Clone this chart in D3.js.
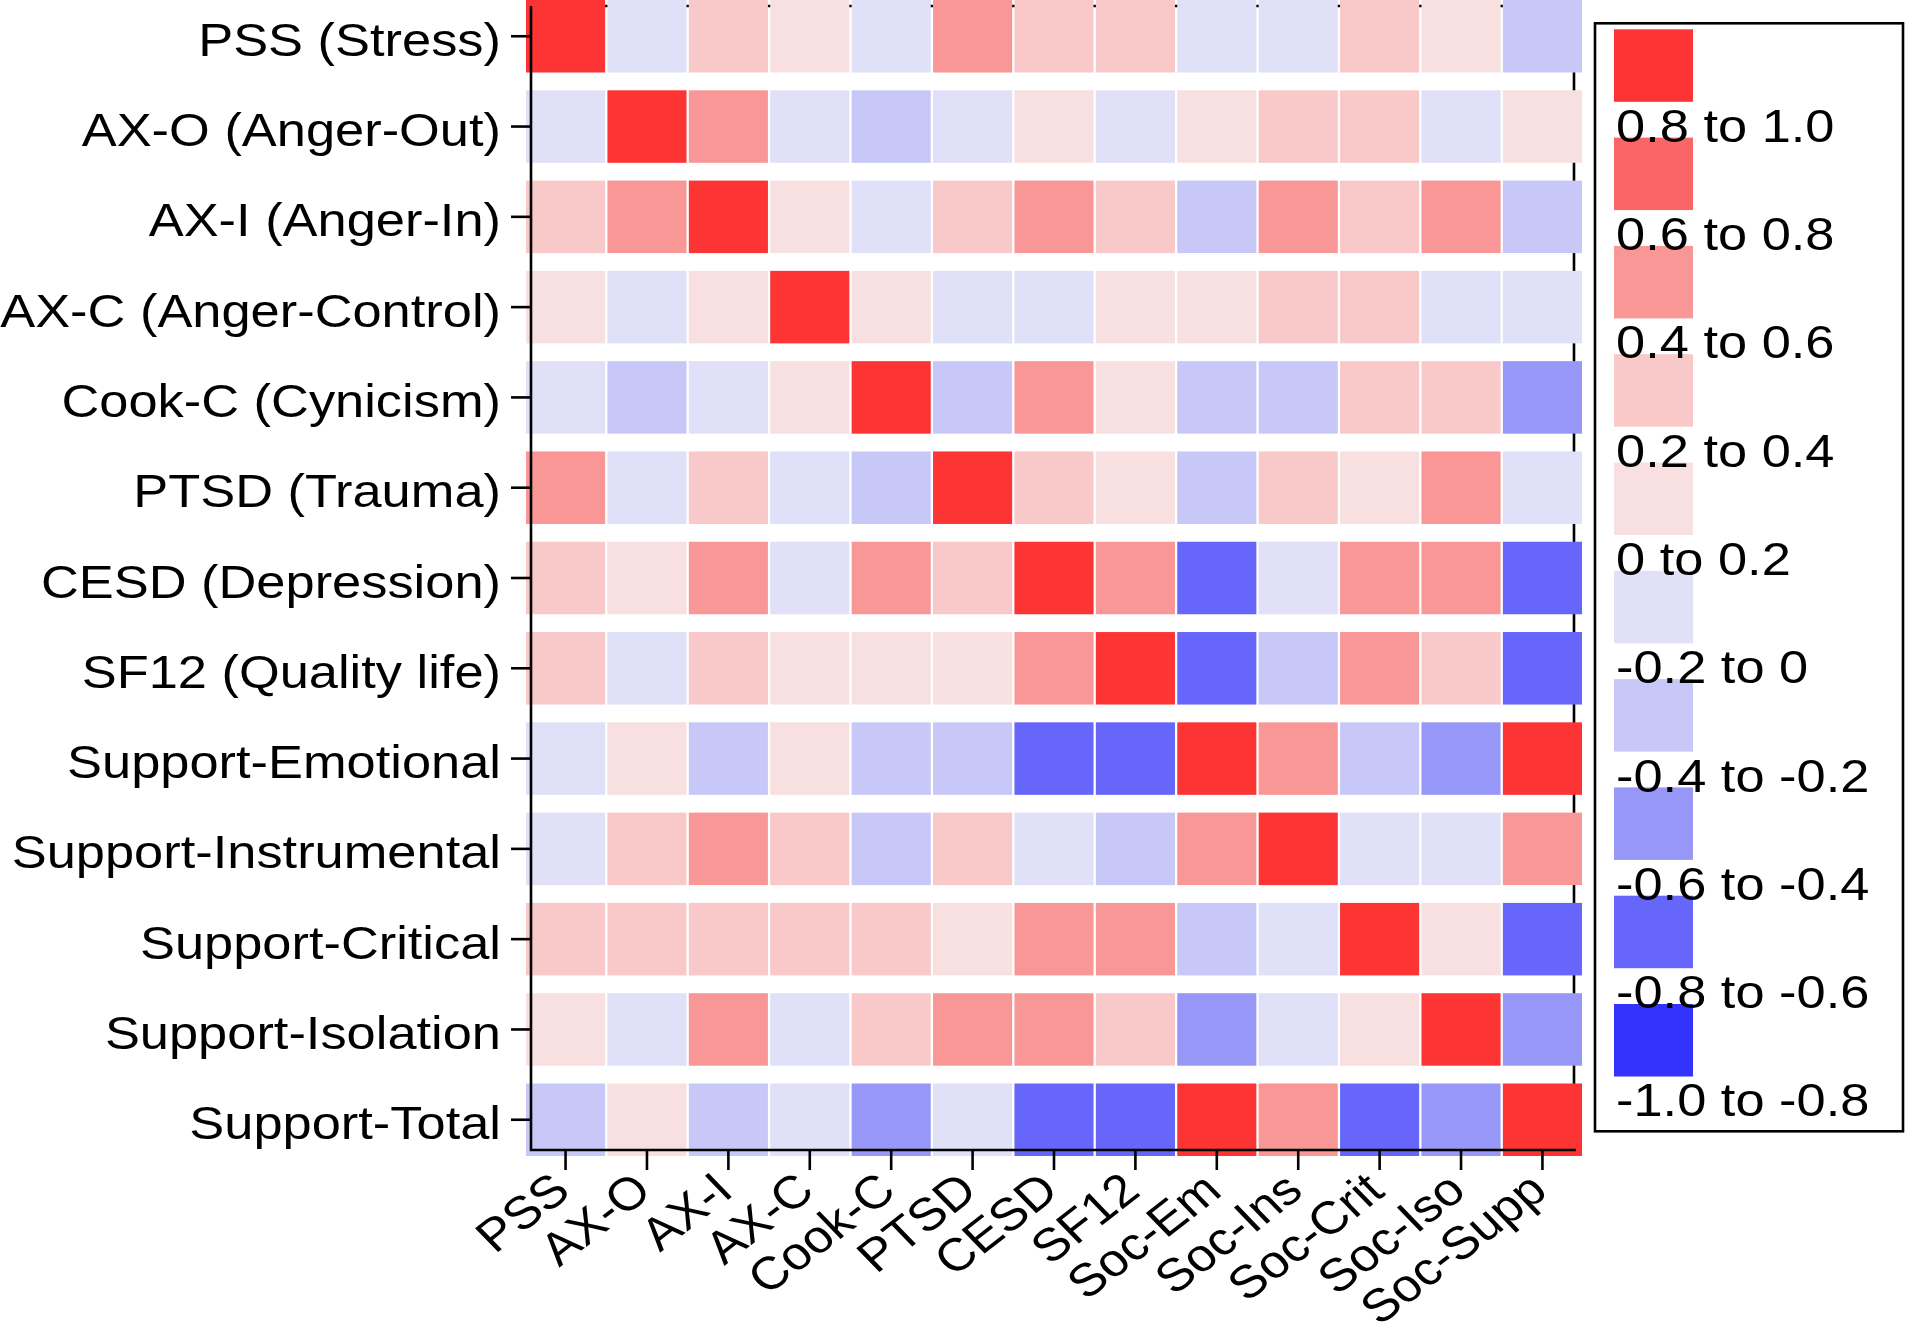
<!DOCTYPE html>
<html><head><meta charset="utf-8">
<script src="https://cdn.jsdelivr.net/npm/d3@7"></script>
<style>
html,body{margin:0;padding:0;background:#fff;}
svg{display:block;}
text{font-family:"Liberation Sans",Arial,Helvetica,sans-serif;fill:#000;}
</style></head><body>
<svg id="chart" width="1906" height="1325"></svg>
<script>
// ---- data ----
const rowLabels = ["PSS (Stress)", "AX-O (Anger-Out)", "AX-I (Anger-In)", "AX-C (Anger-Control)",
  "Cook-C (Cynicism)", "PTSD (Trauma)", "CESD (Depression)", "SF12 (Quality life)",
  "Support-Emotional", "Support-Instrumental", "Support-Critical", "Support-Isolation", "Support-Total"];
const colLabels = ["PSS", "AX-O", "AX-I", "AX-C", "Cook-C", "PTSD", "CESD", "SF12",
  "Soc-Em", "Soc-Ins", "Soc-Crit", "Soc-Iso", "Soc-Supp"];

// correlations (estimated within the colour bins shown)
const rPSS    = [ 1.00, -0.08,  0.27,  0.12, -0.05,  0.45,  0.31,  0.29, -0.11, -0.07,  0.26,  0.15, -0.27];
const rAXO    = [-0.08,  1.00,  0.44, -0.06, -0.24, -0.09,  0.12, -0.04,  0.09,  0.23,  0.25, -0.13,  0.11];
const rAXI    = [ 0.27,  0.44,  1.00,  0.14, -0.12,  0.33,  0.47,  0.36, -0.29,  0.42,  0.31,  0.43, -0.28];
const rAXC    = [ 0.12, -0.06,  0.14,  1.00,  0.08, -0.05, -0.10,  0.07,  0.10,  0.22,  0.21, -0.09, -0.04];
const rCookC  = [-0.05, -0.24, -0.12,  0.08,  1.00, -0.26,  0.41,  0.13, -0.25, -0.31,  0.28,  0.24, -0.46];
const rPTSD   = [ 0.45, -0.09,  0.33, -0.05, -0.26,  1.00,  0.35,  0.16, -0.28,  0.27,  0.13,  0.41, -0.14];
const rCESD   = [ 0.31,  0.12,  0.47, -0.10,  0.41,  0.35,  1.00,  0.52, -0.66, -0.15,  0.45,  0.49, -0.71];
const rSF12   = [ 0.29, -0.04,  0.36,  0.07,  0.13,  0.16,  0.52,  1.00, -0.68, -0.27,  0.43,  0.34, -0.69];
const rSocEm  = [-0.11,  0.09, -0.29,  0.10, -0.25, -0.28, -0.66, -0.68,  1.00,  0.48, -0.33, -0.52,  0.89];
const rSocIns = [-0.07,  0.23,  0.42,  0.22, -0.31,  0.27, -0.15, -0.27,  0.48,  1.00, -0.12, -0.08,  0.57];
const rSocCrit= [ 0.26,  0.25,  0.31,  0.21,  0.28,  0.13,  0.45,  0.43, -0.33, -0.12,  1.00,  0.18, -0.64];
const rSocIso = [ 0.15, -0.13,  0.43, -0.09,  0.24,  0.41,  0.49,  0.34, -0.52, -0.08,  0.18,  1.00, -0.55];
const rSocSupp= [-0.27,  0.11, -0.28, -0.04, -0.46, -0.14, -0.71, -0.69,  0.89,  0.57, -0.64, -0.55,  1.00];

const binEdges  = [-0.8, -0.6, -0.4, -0.2, 0, 0.2, 0.4, 0.6, 0.8];
const binColors = ["#3333FC", "#6666FA", "#9797F8", "#C8C8F8", "#E0E0F8",
                   "#F8E0E0", "#F9C8C8", "#F99797", "#FA6666", "#FC3434"];
const legendLabels = ["0.8 to 1.0", "0.6 to 0.8", "0.4 to 0.6", "0.2 to 0.4", "0 to 0.2",
  "-0.2 to 0", "-0.4 to -0.2", "-0.6 to -0.4", "-0.8 to -0.6", "-1.0 to -0.8"];

// ---- drawing ----
const matrix = [rPSS, rAXO, rAXI, rAXC, rCookC, rPTSD, rCESD, rSF12, rSocEm, rSocIns, rSocCrit, rSocIso, rSocSupp];
const cells = matrix.flatMap((row, i) => row.map((v, j) => ({r: rowLabels[i], c: colLabels[j], v})));

const svg = d3.select("#chart");
const SX = 1.115;           // horizontal stretch of the original typography
const X0 = 531, X1 = 1574, Y0 = 6, Y1 = 1150;

const x = d3.scaleBand().domain(colLabels).range([526, 1582]).paddingInner(0.028);
const y = d3.scaleBand().domain(rowLabels).range([0, 1156]).paddingInner(0.197);
const color = d3.scaleThreshold().domain(binEdges).range(binColors);

// frame lines behind cells (top & right)
svg.append("path")
  .attr("d", `M${X0},${Y0}H${X1}V${Y1}`)
  .attr("fill", "none").attr("stroke", "#000").attr("stroke-width", 2.6);

svg.append("g").selectAll("rect").data(cells).join("rect")
  .attr("x", d => x(d.c)).attr("y", d => y(d.r))
  .attr("width", x.bandwidth()).attr("height", y.bandwidth())
  .attr("fill", d => color(d.v));

// y axis
const yAxis = svg.append("g").attr("transform", `translate(${X0},0)`)
  .call(d3.axisLeft(y).tickSize(20).tickSizeOuter(0));
yAxis.attr("font-size", null).attr("font-family", null);
yAxis.select(".domain").remove();
yAxis.selectAll(".tick line").attr("stroke", "#000").attr("stroke-width", 2.6);
yAxis.selectAll(".tick text")
  .attr("x", 0).attr("dy", null)
  .attr("text-anchor", "end")
  .attr("transform", `translate(-30,19.5) scale(${SX},1)`)
  .style("font-size", "47px");

// x axis
const xAxis = svg.append("g").attr("transform", `translate(0,${Y1})`)
  .call(d3.axisBottom(x).tickSize(20).tickSizeOuter(0));
xAxis.attr("font-size", null).attr("font-family", null);
xAxis.select(".domain").remove();
xAxis.selectAll(".tick line").attr("stroke", "#000").attr("stroke-width", 2.6);
xAxis.selectAll(".tick text")
  .attr("y", 0).attr("dy", null)
  .attr("text-anchor", "end")
  .attr("transform", `translate(7,44) scale(${SX},1) rotate(-41)`)
  .style("font-size", "46px");

// left & bottom axis lines on top
svg.append("path")
  .attr("d", `M${X0},${Y0}V${Y1}H${X1 + 2}`)
  .attr("fill", "none").attr("stroke", "#000").attr("stroke-width", 2.6);

// legend
const lg = svg.append("g");
lg.append("rect").attr("x", 1595).attr("y", 23.3).attr("width", 308).attr("height", 1108)
  .attr("fill", "none").attr("stroke", "#000").attr("stroke-width", 2.6);
const ly = d3.scaleBand().domain(legendLabels).range([29.3, 1076.5]).paddingInner(0.3306);
const legendColors = binColors.slice().reverse();
lg.selectAll("rect.sw").data(legendLabels).join("rect").attr("class", "sw")
  .attr("x", 1614).attr("y", d => ly(d)).attr("width", 79).attr("height", ly.bandwidth())
  .attr("fill", (d, i) => legendColors[i]);
lg.selectAll("text").data(legendLabels).join("text")
  .attr("transform", d => `translate(1616,${ly(d) + 112.4}) scale(${SX},1)`)
  .style("font-size", "47px")
  .text(d => d);
</script>
</body></html>
